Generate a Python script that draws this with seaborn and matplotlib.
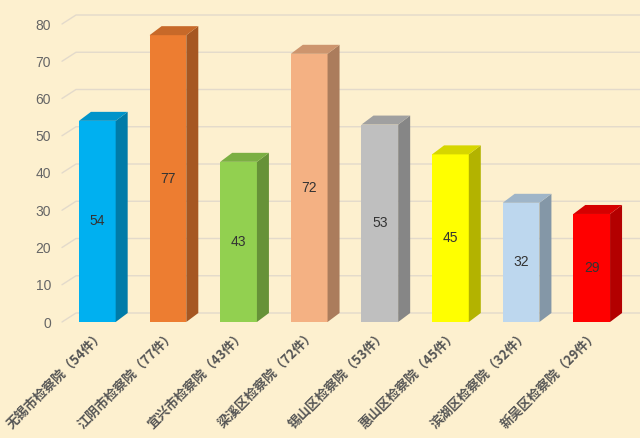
import matplotlib
matplotlib.use("Agg")
import matplotlib.pyplot as plt
import seaborn as sns
import numpy as np
import pandas as pd
from matplotlib.patches import Polygon
from matplotlib.colors import to_rgb

categories = ["无锡市检察院（54件）", "江阴市检察院（77件）", "宜兴市检察院（43件）", "梁溪区检察院（72件）",
              "锡山区检察院（53件）", "惠山区检察院（45件）", "滨湖区检察院（32件）", "新吴区检察院（29件）"]
values = [54, 77, 43, 72, 53, 45, 32, 29]
colors = ["#00B0F0", "#ED7D31", "#92D050", "#F4B183", "#BFBFBF", "#FFFF00", "#BDD7EE", "#FF0000"]
yticks = [0, 10, 20, 30, 40, 50, 60, 70, 80]

bg = "#FDF0CF"
sns.set_theme(style="white")
plt.rcParams['font.family'] = ['Noto Sans CJK SC', 'DejaVu Sans']
numfont = ['Liberation Sans', 'DejaVu Sans']

fig = plt.figure(figsize=(6.4, 4.38), dpi=100, facecolor=bg)
ax = fig.add_axes([62/640, 116/438, (627-62)/640, (322-24)/438])
ax.set_facecolor(bg)

df = pd.DataFrame({"cat": categories, "val": values})
sns.barplot(data=df, x="cat", y="val", hue="cat", palette=colors, legend=False,
            width=0.52, saturation=1, ax=ax, zorder=3, linewidth=0, edgecolor='none')
ax.set_ylim(0, 80)
ax.set_xlim(-0.5, len(categories) - 0.5)
ax.set_yticks(yticks)
for s in ax.spines.values():
    s.set_visible(False)
ax.set_xlabel("")
ax.set_ylabel("")
ax.tick_params(axis='both', length=0)

fig.canvas.draw()
DX, DY = 12, 9  # depth in pixels
tr = ax.transData
inv = ax.transData.inverted()

def shade(c, f):
    r, g, b = to_rgb(c)
    return (r * f, g * f, b * f)

# grid on back wall + left wall diagonals
x0d, x1d = ax.get_xlim()
for v in yticks:
    p0 = tr.transform((x0d, v))
    p1 = p0 + np.array([DX + 2, DY])
    p2 = np.array([fig.bbox.width, p1[1]])
    pts = inv.transform(np.array([p0, p1, p2]))
    ax.plot(pts[:, 0], pts[:, 1], color="#E3DACB", lw=1.0, zorder=1, clip_on=False)

for patch, c, v in zip(ax.patches, colors, values):
    x, y = patch.get_x(), patch.get_y()
    w, h = patch.get_width(), patch.get_height()
    bl = tr.transform((x, 0)); br = tr.transform((x + w, 0))
    tl = tr.transform((x, h)); trr = tr.transform((x + w, h))
    d = np.array([DX, DY])
    side = inv.transform(np.array([br, br + d, trr + d, trr]))
    top = inv.transform(np.array([tl, trr, trr + d, tl + d]))
    ax.add_patch(Polygon(side, closed=True, facecolor=shade(c, 0.70), edgecolor='none', zorder=3, clip_on=False))
    ax.add_patch(Polygon(top, closed=True, facecolor=shade(c, 0.84), edgecolor='none', zorder=3, clip_on=False))
    ax.text(x + w / 2, h / 2, f"{v}", ha='center', va='center', fontsize=10, color="#333333",
            zorder=5, family=numfont)

ax.set_yticks(yticks)
ax.set_yticklabels([str(t) for t in yticks], fontsize=10, color="#666666", family=numfont)
ax.tick_params(axis='y', pad=8)
ax.set_xticks(range(len(categories)))
ax.set_xticklabels(categories, rotation=45, ha='right', rotation_mode='anchor',
                   fontsize=9.4, fontweight='bold', color="#555555")
ax.tick_params(axis='x', pad=4)

fig.savefig("out.png", dpi=100, facecolor=bg)
